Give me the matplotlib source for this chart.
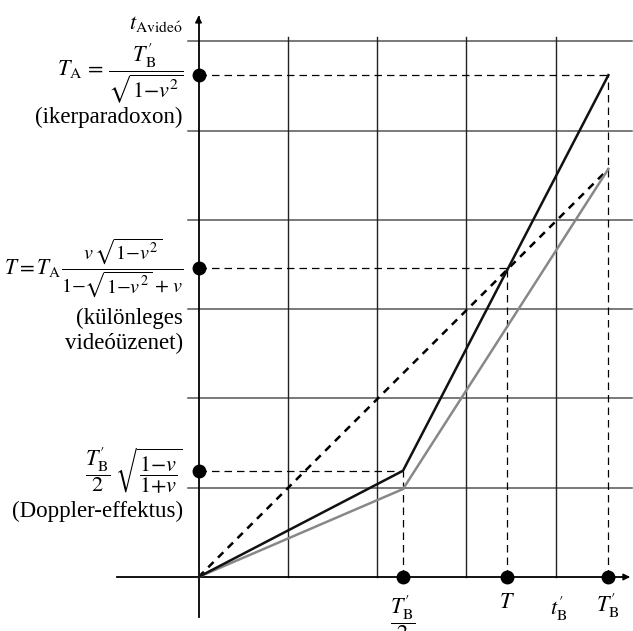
import matplotlib
matplotlib.use("Agg")
import matplotlib.pyplot as plt
from matplotlib.patches import FancyArrowPatch

plt.rcParams['mathtext.fontset'] = 'stix'
plt.rcParams['font.family'] = ['Liberation Serif', 'DejaVu Serif']

# Key times (grid units)
t_half = 2.29        # T'_B / 2
t_msg = 3.46         # T  (special video message)
t_end = 4.59         # T'_B
y_doppler = 1.19     # Doppler-shifted arrival
y_twin = 5.62        # T_A (twin paradox)

# Worldline readings
black_x = [0, t_half, t_end]
black_y = [0, y_doppler, y_twin]
grey_x = [0, t_half, t_end]
grey_y = [0, 0.985, 4.57]
diag_x = [0, t_end]
diag_y = [0, 4.57]

grid_x = [1, 2, 3, 4]
grid_y = [1, 2, 3, 4, 5, 6]

W, H = 633, 631
ox, oy, unit = 198.5, 577.0, 89.3

fig = plt.figure(figsize=(W / 100, H / 100), dpi=100)
ax = fig.add_axes([0, 0, 1, 1])
ax.set_xlim(-ox / unit, (W - ox) / unit)
ax.set_ylim((oy - H) / unit, oy / unit)
ax.axis('off')

xr = (632 - ox) / unit
# grid
for gy in grid_y:
    ax.plot([-0.12, xr], [gy, gy], color='#555555', lw=1.1, zorder=1)
for gx in grid_x:
    ax.plot([gx, gx], [0, 6.05], color='#222222', lw=1.0, zorder=1)

# axes with arrows
ax.plot([(117 - ox) / unit, xr - 0.05], [0, 0], color='black', lw=1.3, zorder=2)
ax.plot([0, 0], [(oy - 617) / unit, (oy - 13) / unit - 0.05], color='black', lw=1.3, zorder=2)
ax.add_patch(FancyArrowPatch((xr - 0.15, 0), (xr + 0.01, 0), arrowstyle='-|>',
                             mutation_scale=10, color='black', lw=1.0, zorder=3))
ax.add_patch(FancyArrowPatch((0, (oy - 13) / unit - 0.15), (0, (oy - 13) / unit), arrowstyle='-|>',
                             mutation_scale=10, color='black', lw=1.0, zorder=3))

# thin dashed helper lines
thin = dict(color='black', lw=0.9, dashes=(6, 4), zorder=2)
ax.plot([0, t_end], [y_twin, y_twin], **thin)
ax.plot([t_end, t_end], [0, y_twin], **thin)
ax.plot([0, t_msg], [t_msg, t_msg], **thin)
ax.plot([t_msg, t_msg], [0, t_msg], **thin)
ax.plot([0, t_half], [y_doppler, y_doppler], **thin)
ax.plot([t_half, t_half], [0, y_doppler], **thin)

# worldlines
ax.plot(diag_x, diag_y, color='black', lw=1.8, dashes=(3, 2.5), zorder=3)
ax.plot(grey_x, grey_y, color='#888888', lw=1.8, zorder=3)
ax.plot(black_x, black_y, color='#111111', lw=1.8, zorder=4)

# marked points on the axes
ax.plot([0, 0, 0], [y_twin, t_msg, y_doppler], 'o', color='black', ms=9, zorder=5)
ax.plot([t_half, t_msg, t_end], [0, 0, 0], 'o', color='black', ms=9, zorder=5)

fs = 16.5
mfs = 16
lx = (183 - ox) / unit

def py(p):
    return (oy - p) / unit

def px(p):
    return (p - ox) / unit

TB = r"T^{\prime}_{\mathrm{B}}"

ax.text(lx, py(24), r"$t_{\mathrm{Avide\'o}}$", ha='right', va='center', fontsize=mfs)
ax.text(lx, py(73), r"$T_{\mathrm{A}}\,{=}\,\dfrac{" + TB + r"}{\sqrt{1{-}v^2}}$",
        ha='right', va='center', fontsize=mfs)
ax.text(lx, py(117), '(ikerparadoxon)', ha='right', va='center', fontsize=fs)

# special message formula: fraction first, then the prefix placed left of it
frac = ax.text(lx, py(268),
               r"$\dfrac{v\,\sqrt{1{-}v^2}}{1{-}\sqrt{1{-}v^2}\;{+}\;v}$",
               ha='right', va='center', fontsize=14.5)
fig.canvas.draw()
bb = frac.get_window_extent(renderer=fig.canvas.get_renderer())
ax.annotate(r"$T{=}T_{\mathrm{A}}$", xy=(bb.x0 + 1, bb.y0 + bb.height / 2), xycoords='figure pixels',
            ha='right', va='center', fontsize=15.5)

ax.text(lx, py(318), '(különleges', ha='right', va='center', fontsize=fs)
ax.text(lx, py(343), 'videóüzenet)', ha='right', va='center', fontsize=fs)
ax.text(lx, py(471), r"$\dfrac{" + TB + r"}{2}\;\sqrt{\dfrac{1{-}v}{1{+}v}}$",
        ha='right', va='center', fontsize=mfs)
ax.text(lx, py(511), '(Doppler-effektus)', ha='right', va='center', fontsize=fs)

ax.text(px(403), py(618), r"$\dfrac{" + TB + r"}{2}$", ha='center', va='center', fontsize=mfs)
ax.text(px(507), py(604), r"$T$", ha='center', va='center', fontsize=mfs)
ax.text(px(559), py(609), r"$t^{\prime}_{\mathrm{B}}$", ha='center', va='center', fontsize=mfs)
ax.text(px(608), py(606), r"$" + TB + r"$", ha='center', va='center', fontsize=mfs)

fig.savefig('out.png', dpi=100)
